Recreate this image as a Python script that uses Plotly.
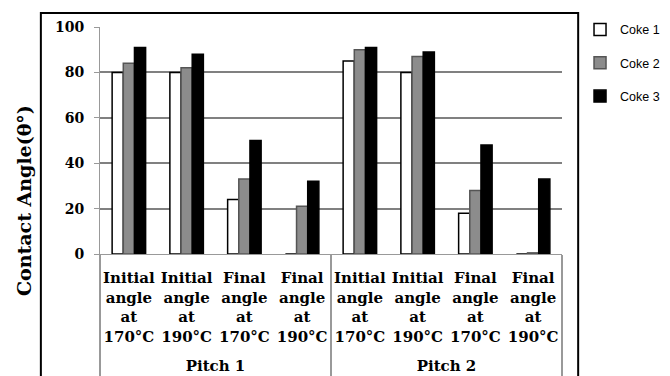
import plotly.graph_objects as go

# dados
pitches = ["Pitch 1"] * 4 + ["Pitch 2"] * 4
conditions = ["Initial<br>angle<br>at<br>170°C<br> ", "Initial<br>angle<br>at<br>190°C<br> ",
              "Final<br>angle<br>at<br>170°C<br> ", "Final<br>angle<br>at<br>190°C<br> "] * 2
coke1 = [80, 80, 24, 0, 85, 80, 18, 0]
coke2 = [84, 82, 33, 21, 90, 87, 28, 0.5]
coke3 = [91, 88, 50, 32, 91, 89, 48, 33]

series = [("Coke 1", coke1, "white", "black"),
          ("Coke 2", coke2, "#8c8c8c", "#555555"),
          ("Coke 3", coke3, "black", "black")]

fig = go.Figure()
for i, (nome, vals, cor, borda) in enumerate(series):
    fig.add_trace(go.Bar(
        x=[pitches, conditions], y=vals, name=nome,
        marker=dict(color=cor, line=dict(color=borda, width=1.5)),
        legendgroup=nome,
    ))

# a pagina tem margem de 8px no body, entao tudo fica deslocado 8px
fig.update_layout(
    width=670, height=376,
    barmode="group", bargap=0.42, bargroupgap=0,
    plot_bgcolor="white", paper_bgcolor="white",
    margin=dict(l=92, r=116, t=19, b=130, autoexpand=False),
    font=dict(family="DejaVu Serif", color="black"),
    showlegend=True,
    legend=dict(x=1.052, y=1.053, xanchor="left", yanchor="top", indentation=-6,
                font=dict(family="Liberation Sans", size=12.5),
                traceorder="grouped", tracegroupgap=14, itemwidth=30),
    yaxis=dict(range=[0, 100], dtick=20, showgrid=True, gridcolor="#808080", gridwidth=1.5,
               showline=True, linecolor="#999999", ticks="outside", ticklen=5, tickcolor="#999999",
               ticklabelstandoff=7,
               tickfont=dict(size=14, family="DejaVu Serif", weight="bold")),
    xaxis=dict(showline=True, linecolor="#999999", showdividers=True, dividercolor="#999999",
               dividerwidth=1.5, ticklabelstandoff=10, tickangle=0,
               tickfont=dict(size=15, family="DejaVu Serif", weight="bold")),
    shapes=[dict(type="rect", xref="paper", yref="paper", x0=-0.128, x1=1.035, y0=-0.6, y1=1.062,
                 line=dict(color="black", width=2))],
    annotations=[dict(text="<b>Contact Angle(θ°)</b>", xref="paper", yref="paper",
                      x=-0.1645, y=0.233, xanchor="center", yanchor="middle",
                      textangle=-90, showarrow=False,
                      font=dict(size=19, family="DejaVu Serif"))],
)

fig.write_html("out.html")
